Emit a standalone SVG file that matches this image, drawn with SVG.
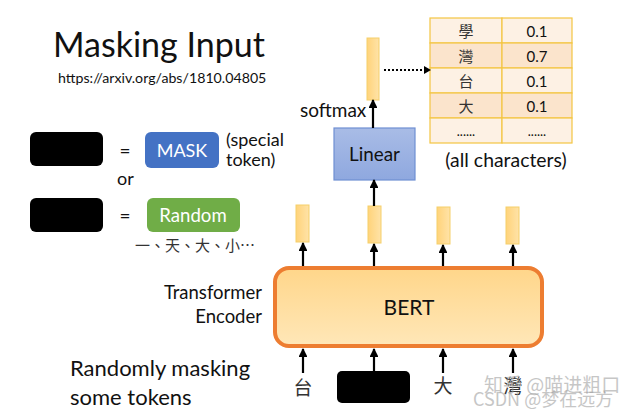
<svg xmlns="http://www.w3.org/2000/svg" width="641" height="415" viewBox="0 0 641 415">
<style>
.t{font-family:Lato,"Liberation Sans","Noto Sans CJK TC",sans-serif;fill:#111}
.cj{font-family:"Noto Sans CJK TC",sans-serif;fill:#333}
.bar{fill:url(#gy);stroke:#F5CF6A;stroke-width:1}
.ar{stroke:#000;stroke-width:2.2;fill:none;marker-end:url(#ah)}
.cell{stroke:#F4C542;stroke-width:1.2}
.wm{font-family:"Noto Sans CJK SC","Liberation Sans",sans-serif;fill:#999;opacity:0.55}
</style>
<defs>
<marker id="ah" viewBox="0 0 10 10" refX="9" refY="5" markerWidth="4" markerHeight="4" orient="auto" markerUnits="strokeWidth"><path d="M0,0 L10,5 L0,10 z" fill="#000"/></marker>
<linearGradient id="gy" x1="0" y1="0" x2="1" y2="0"><stop offset="0" stop-color="#FFD37A"/><stop offset="1" stop-color="#FFE3A8"/></linearGradient>
<linearGradient id="gb" x1="0" y1="0" x2="0" y2="1"><stop offset="0" stop-color="#A9BCE6"/><stop offset="1" stop-color="#8FA8DF"/></linearGradient>
<linearGradient id="go" x1="0" y1="0" x2="0" y2="1"><stop offset="0" stop-color="#FFD68A"/><stop offset="1" stop-color="#FFE7B8"/></linearGradient>
</defs>

<g id="title">
<text class="t" x="53" y="57" font-size="34">Masking Input</text>
<text class="t" x="58" y="83" font-size="14.2">https://arxiv.org/abs/1810.04805</text>
</g>

<g id="legend-mask">
<rect x="30" y="132" width="73" height="34" rx="6" fill="#000"/>
<text class="t" x="125" y="158" font-size="19" text-anchor="middle">=</text>
<rect x="145" y="132" width="74" height="36" rx="6" fill="#4472C4"/>
<text x="182" y="157" font-size="18" text-anchor="middle" style="font-family:Lato,'Liberation Sans',sans-serif;fill:#fff">MASK</text>
<text class="t" x="226" y="146" font-size="18">(special</text>
<text class="t" x="226" y="166" font-size="18">token)</text>
</g>
<g id="legend-or"><text class="t" x="117" y="185" font-size="18">or</text></g>
<g id="legend-random">
<rect x="30" y="198" width="73" height="34" rx="6" fill="#000"/>
<text class="t" x="125" y="223" font-size="19" text-anchor="middle">=</text>
<rect x="147" y="198" width="93" height="34" rx="6" fill="#70AD47"/>
<text x="193" y="222" font-size="18.6" text-anchor="middle" style="font-family:Lato,'Liberation Sans',sans-serif;fill:#fff">Random</text>
<text class="cj" x="135" y="251" font-size="15" fill="#444">一、天、大、小…</text>
</g>

<g id="softmax-bar">
<rect class="bar" x="367" y="38" width="12" height="62"/>
<text class="t" x="300" y="117" font-size="19">softmax</text>
</g>

<g id="table">
<rect class="cell" x="430" y="18" width="72" height="25" fill="#FDF1E4"/>
<rect class="cell" x="502" y="18" width="70" height="25" fill="#FDF1E4"/>
<rect class="cell" x="430" y="43" width="72" height="25" fill="#FBE4CC"/>
<rect class="cell" x="502" y="43" width="70" height="25" fill="#FBE4CC"/>
<rect class="cell" x="430" y="68" width="72" height="25" fill="#FDF1E4"/>
<rect class="cell" x="502" y="68" width="70" height="25" fill="#FDF1E4"/>
<rect class="cell" x="430" y="93" width="72" height="25" fill="#FBE4CC"/>
<rect class="cell" x="502" y="93" width="70" height="25" fill="#FBE4CC"/>
<rect class="cell" x="430" y="118" width="72" height="25" fill="#FDF1E4"/>
<rect class="cell" x="502" y="118" width="70" height="25" fill="#FDF1E4"/>
<text class="cj" x="466" y="37" font-size="15" text-anchor="middle" fill="#555">學</text>
<text class="cj" x="466" y="62" font-size="15" text-anchor="middle" fill="#555">灣</text>
<text class="cj" x="466" y="87" font-size="15" text-anchor="middle" fill="#555">台</text>
<text class="cj" x="466" y="112" font-size="15" text-anchor="middle" fill="#555">大</text>
<text class="t" x="466" y="136" font-size="13" text-anchor="middle">......</text>
<text class="t" x="537" y="37" font-size="15" text-anchor="middle">0.1</text>
<text class="t" x="537" y="62" font-size="15" text-anchor="middle">0.7</text>
<text class="t" x="537" y="87" font-size="15" text-anchor="middle">0.1</text>
<text class="t" x="537" y="112" font-size="15" text-anchor="middle">0.1</text>
<text class="t" x="537" y="136" font-size="13" text-anchor="middle">......</text>
<text class="t" x="506" y="167" font-size="19.4" text-anchor="middle">(all characters)</text>
</g>

<g id="linear">
<rect x="334" y="128" width="81" height="52" fill="url(#gb)" stroke="#6F8FD3" stroke-width="1.2"/>
<text class="t" x="374.5" y="161" font-size="18.9" text-anchor="middle">Linear</text>
</g>

<g id="outputs">
<rect class="bar" x="296" y="205" width="13" height="37"/>
<rect class="bar" x="368" y="206" width="13" height="37"/>
<rect class="bar" x="437" y="207" width="13" height="37"/>
<rect class="bar" x="506" y="207" width="13" height="37"/>
</g>

<g id="bert">
<rect x="275" y="268" width="267" height="78" rx="14" fill="url(#go)" stroke="#ED7D31" stroke-width="4"/>
<text class="t" x="409" y="315" font-size="21" text-anchor="middle">BERT</text>
<text class="t" x="262" y="299" font-size="18.5" text-anchor="end">Transformer</text>
<text class="t" x="262" y="323" font-size="18.5" text-anchor="end">Encoder</text>
</g>

<g id="inputs">
<text class="cj" x="303" y="395" font-size="19" text-anchor="middle" fill="#222">台</text>
<rect x="337" y="371" width="73" height="32" rx="5" fill="#000"/>
<text class="cj" x="443" y="393" font-size="19" text-anchor="middle" fill="#222">大</text>
<text class="cj" x="513" y="393" font-size="19" text-anchor="middle" fill="#222">灣</text>
</g>

<g id="caption">
<text class="t" x="70" y="376" font-size="22">Randomly masking</text>
<text class="t" x="70" y="405" font-size="22">some tokens</text>
</g>

<g id="connectors">
<line class="ar" x1="373" y1="128" x2="373" y2="100"/>
<line x1="384" y1="70" x2="426" y2="70" stroke="#000" stroke-width="2" stroke-dasharray="2,2"/>
<path d="M424,66 L431,70 L424,74 z" fill="#000"/>
<line class="ar" x1="374" y1="206" x2="374" y2="180"/>
<line class="ar" x1="303" y1="266" x2="303" y2="243"/>
<line class="ar" x1="374" y1="266" x2="374" y2="244"/>
<line class="ar" x1="443" y1="266" x2="443" y2="245"/>
<line class="ar" x1="513" y1="266" x2="513" y2="245"/>
<line class="ar" x1="303" y1="373" x2="303" y2="349"/>
<line class="ar" x1="374" y1="371" x2="374" y2="349"/>
<line class="ar" x1="443" y1="373" x2="443" y2="349"/>
<line class="ar" x1="513" y1="373" x2="513" y2="349"/>
</g>

<g id="watermark">
<text class="wm" x="484" y="392" font-size="19">知乎 @喵进粗口</text>
<text class="wm" x="473" y="406" font-size="18">CSDN @梦在远方</text>
</g>
</svg>
